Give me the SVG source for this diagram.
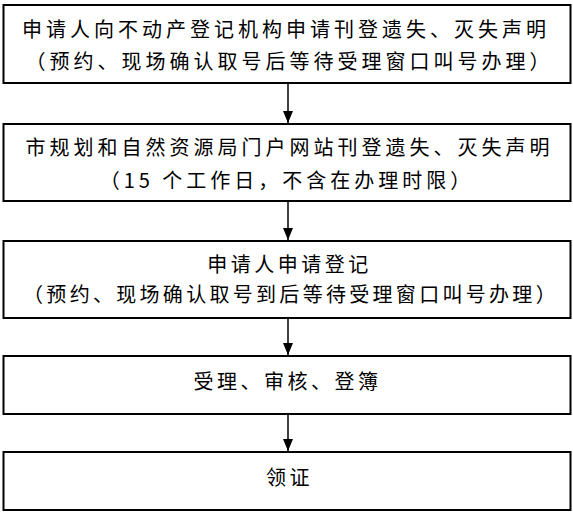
<svg xmlns="http://www.w3.org/2000/svg" width="573" height="514" viewBox="0 0 573 514">
<style>
.box{fill:#fff;stroke:#000;stroke-width:2}
.t{font-family:"Noto Sans CJK SC","Noto Sans",sans-serif;font-size:20px;fill:#000;text-anchor:middle;letter-spacing:4px}
.n{letter-spacing:3.5px}
.c{stroke:#000;stroke-width:1.5;fill:none}
</style>
<defs>
<marker id="ah" markerWidth="12" markerHeight="10" refX="12" refY="5" orient="auto" markerUnits="userSpaceOnUse" viewBox="0 0 12 10">
<path d="M0,0 L12,5 L0,10 Z" fill="#000"/>
</marker>
</defs>
<rect width="573" height="514" fill="#fff"/>
<g id="connectors">
<line class="c" x1="288" y1="83" x2="288" y2="123" marker-end="url(#ah)"/>
<line class="c" x1="288" y1="201" x2="288" y2="240" marker-end="url(#ah)"/>
<line class="c" x1="288" y1="318" x2="288" y2="355" marker-end="url(#ah)"/>
<line class="c" x1="288" y1="414" x2="288" y2="451" marker-end="url(#ah)"/>
</g>
<g id="n1">
<rect class="box" x="3.5" y="5" width="567" height="78"/>
<text class="t" x="286" y="37">申请人向不动产登记机构申请刊登遗失、灭失声明</text>
<text class="t" x="289.5" y="68.5">（预约、现场确认取号后等待受理窗口叫号办理）</text>
</g>
<g id="n2">
<rect class="box" x="3.5" y="124" width="567" height="77"/>
<text class="t" x="289.5" y="155">市规划和自然资源局门户网站刊登遗失、灭失声明</text>
<text class="t" x="287" y="188">（15 个工作日，不含在办理时限）</text>
</g>
<g id="n3">
<rect class="box" x="3.5" y="241" width="567" height="77"/>
<text class="t n" x="289.5" y="271.5">申请人申请登记</text>
<text class="t" x="291" y="301.5" style="letter-spacing:3.3px">（预约、现场确认取号到后等待受理窗口叫号办理）</text>
</g>
<g id="n4">
<rect class="box" x="3.5" y="356" width="567" height="58"/>
<text class="t n" x="287.5" y="388.5">受理、审核、登簿</text>
</g>
<g id="n5">
<rect class="box" x="3.5" y="452" width="567" height="58"/>
<text class="t n" x="289.5" y="484.5">领证</text>
</g>
</svg>
